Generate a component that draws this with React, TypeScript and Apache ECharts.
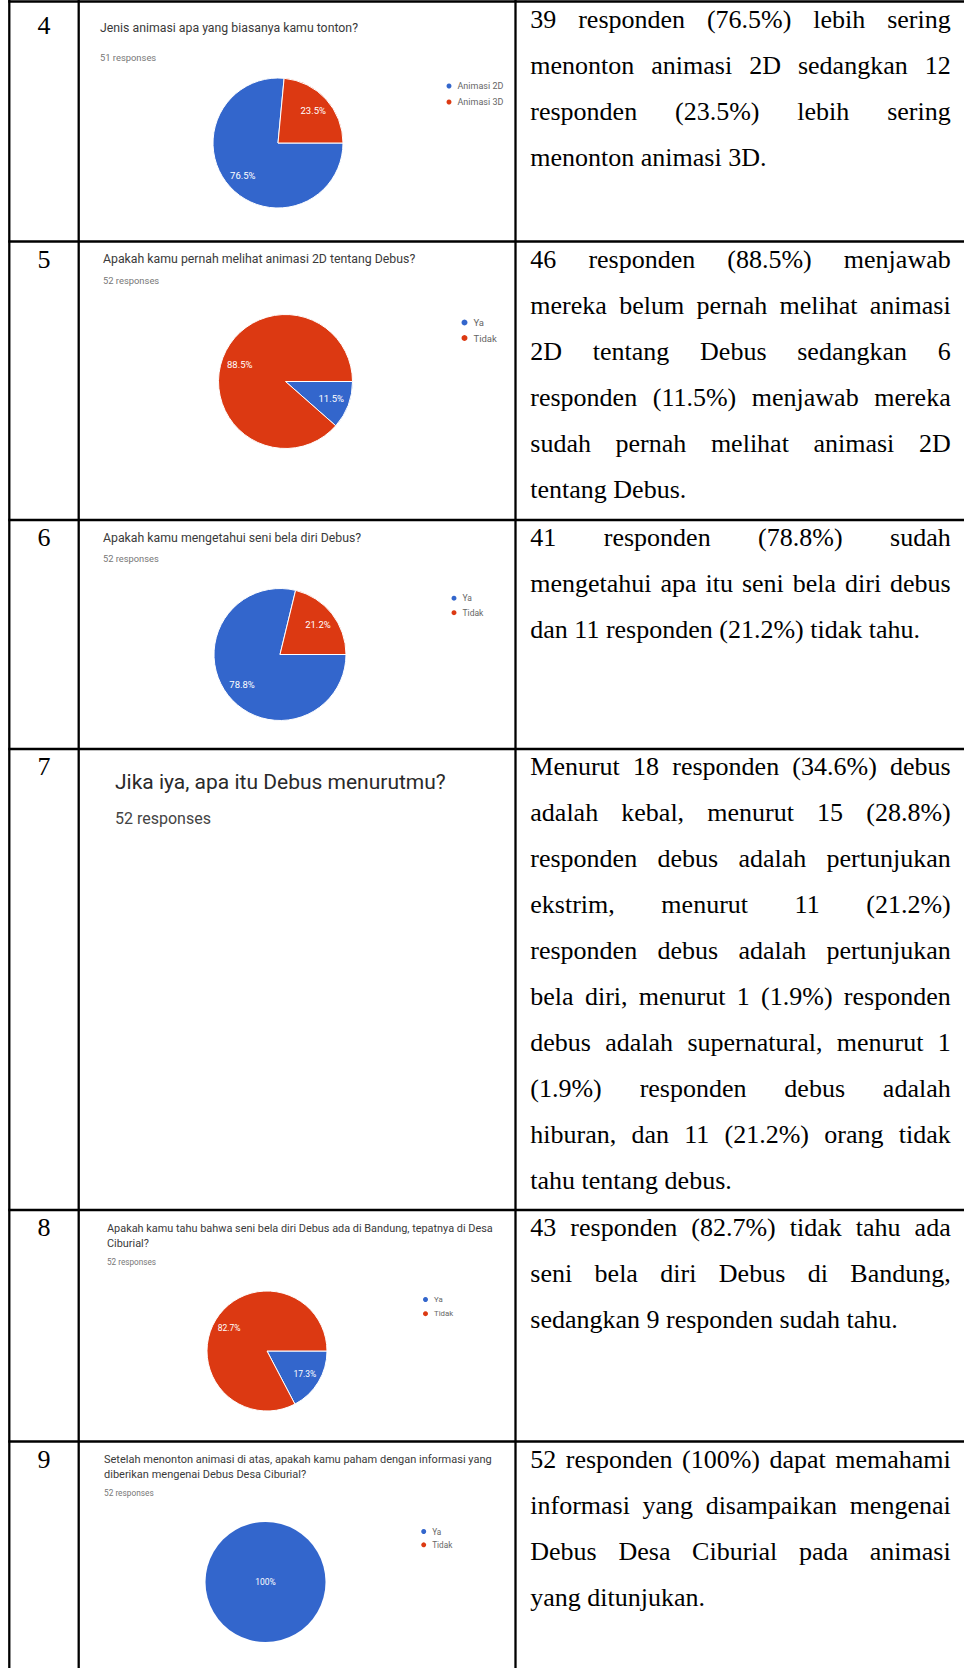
import React, { useEffect, useRef } from 'react';
import * as echarts from 'echarts';

const W = 964;
const H = 1668;

// ---------- data ----------
const rowNumbers = ['4', '5', '6', '7', '8', '9'];

const q4Names = ['Animasi 2D', 'Animasi 3D'];
const q4Values = [76.5, 23.5];
const ynNames = ['Ya', 'Tidak'];
const q5Values = [11.5, 88.5];
const q6Values = [78.8, 21.2];
const q8Values = [17.3, 82.7];
const q9Values = [100, 0];

const q4Title = ['Jenis animasi apa yang biasanya kamu tonton?'];
const q5Title = ['Apakah kamu pernah melihat animasi 2D tentang Debus?'];
const q6Title = ['Apakah kamu mengetahui seni bela diri Debus?'];
const q7Title = ['Jika iya, apa itu Debus menurutmu?'];
const q8Title = ['Apakah kamu tahu bahwa seni bela diri Debus ada di Bandung, tepatnya di Desa', 'Ciburial?'];
const q9Title = ['Setelah menonton animasi di atas, apakah kamu paham dengan informasi yang', 'diberikan mengenai Debus Desa Ciburial?'];
const responses = ['51 responses', '52 responses', '52 responses', '52 responses', '52 responses', '52 responses'];

const text4 = [
  '39 responden (76.5%) lebih sering',
  'menonton animasi 2D sedangkan 12',
  'responden (23.5%) lebih sering',
  'menonton animasi 3D.',
];
const text5 = [
  '46 responden (88.5%) menjawab',
  'mereka belum pernah melihat animasi',
  '2D tentang Debus sedangkan 6',
  'responden (11.5%) menjawab mereka',
  'sudah pernah melihat animasi 2D',
  'tentang Debus.',
];
const text6 = [
  '41 responden (78.8%) sudah',
  'mengetahui apa itu seni bela diri debus',
  'dan 11 responden (21.2%) tidak tahu.',
];
const text7 = [
  'Menurut 18 responden (34.6%) debus',
  'adalah kebal, menurut 15 (28.8%)',
  'responden debus adalah pertunjukan',
  'ekstrim, menurut 11 (21.2%)',
  'responden debus adalah pertunjukan',
  'bela diri, menurut 1 (1.9%) responden',
  'debus adalah supernatural, menurut 1',
  '(1.9%) responden debus adalah',
  'hiburan, dan 11 (21.2%) orang tidak',
  'tahu tentang debus.',
];
const text8 = [
  '43 responden (82.7%) tidak tahu ada',
  'seni bela diri Debus di Bandung,',
  'sedangkan 9 responden sudah tahu.',
];
const text9 = [
  '52 responden (100%) dapat memahami',
  'informasi yang disampaikan mengenai',
  'Debus Desa Ciburial pada animasi',
  'yang ditunjukan.',
];

// ---------- layout ----------
const rowTops = [1.5, 241.5, 520, 749, 1210, 1441.5];
const vLines = [9.3, 78.7, 515.5];
const SERIF = '"Liberation Serif", "Times New Roman", serif';
const SANS = 'Roboto, "Noto Sans", sans-serif';
const BODY_SIZE = 26;
const BODY_LEFT = 530.3;
const BODY_RIGHT = 950.7;
const LINE_STEP = 46;

const BLUE = '#3366cc';
const RED = '#dc3912';

let measureCtx: CanvasRenderingContext2D | null = null;
function measure(text: string, font: string): number {
  if (!measureCtx) {
    const c = document.createElement('canvas');
    measureCtx = c.getContext('2d');
  }
  measureCtx!.font = font;
  return measureCtx!.measureText(text).width;
}

function paragraph(lines: string[], rowTop: number): any[] {
  const els: any[] = [];
  const font = `${BODY_SIZE}px ${SERIF}`;
  lines.forEach((line, li) => {
    const y = rowTop + 17.5 + li * LINE_STEP;
    const last = li === lines.length - 1;
    const words = line.split(' ');
    if (last || words.length < 2) {
      els.push({
        type: 'text', x: BODY_LEFT, y, silent: true,
        style: { text: line, fontSize: BODY_SIZE, fontFamily: SERIF, fill: '#000', align: 'left', verticalAlign: 'middle' },
      });
      return;
    }
    const widths = words.map((w) => measure(w, font));
    const total = widths.reduce((a, b) => a + b, 0);
    const gap = (BODY_RIGHT - BODY_LEFT - total) / (words.length - 1);
    let x = BODY_LEFT;
    words.forEach((w, i) => {
      els.push({
        type: 'text', x, y, silent: true,
        style: { text: w, fontSize: BODY_SIZE, fontFamily: SERIF, fill: '#000', align: 'left', verticalAlign: 'middle' },
      });
      x += widths[i] + gap;
    });
  });
  return els;
}

function titleBlock(lines: string[], resp: string, x: number, y: number, size: number, step: number, respY: number, respSize: number, color: string, respColor: string): any[] {
  const els: any[] = lines.map((t, i) => ({
    type: 'text', x, y: y + i * step, silent: true,
    style: { text: t, fontSize: size, fontFamily: SANS, fill: color, align: 'left', verticalAlign: 'middle' },
  }));
  els.push({
    type: 'text', x, y: respY, silent: true,
    style: { text: resp, fontSize: respSize, fontFamily: SANS, fill: respColor, align: 'left', verticalAlign: 'middle' },
  });
  return els;
}

function pieSeries(names: string[], values: number[], cx: number, cy: number, r: number, labelSize: number, border: number) {
  const k = 0.34;
  return {
    type: 'pie',
    center: [cx, cy],
    radius: r,
    startAngle: 0,
    clockwise: true,
    silent: true,
    avoidLabelOverlap: false,
    emphasis: { disabled: true },
    itemStyle: { borderColor: '#fff', borderWidth: border },
    label: {
      show: true,
      position: 'inside',
      color: '#fff',
      fontSize: labelSize,
      fontFamily: SANS,
      formatter: (p: any) => `${p.value}%`,
    },
    labelLine: { show: false },
    labelLayout: (p: any) => {
      const v = values[p.dataIndex];
      if (v >= 100 || v <= 0) return {};
      const rect = p.labelRect;
      const lx = rect.x + rect.width / 2;
      const ly = rect.y + rect.height / 2;
      return { dx: (lx - cx) * k, dy: (ly - cy) * k };
    },
    data: names.map((n, i) => {
      const item: any = { name: n, value: values[i] };
      if (values[i] <= 0) item.label = { show: false };
      if (values[i] >= 100) item.label = { position: 'center' };
      return item;
    }),
  };
}

function legend(names: string[], left: number, top: number, fontSize: number, gap: number, size: number) {
  return {
    orient: 'vertical',
    left,
    top,
    data: names,
    icon: 'circle',
    itemWidth: size,
    itemHeight: size,
    itemGap: gap,
    selectedMode: false,
    textStyle: { fontSize, color: '#666', fontFamily: SANS },
  };
}

export default function App() {
  const ref = useRef<HTMLDivElement>(null);

  useEffect(() => {
    document.body.style.margin = '0';
    if (!ref.current) return;
    const chart = echarts.init(ref.current, undefined, { renderer: 'svg', width: W, height: H });

    const graphics: any[] = [];
    // table lines
    rowTops.forEach((y) => {
      graphics.push({ type: 'line', silent: true, shape: { x1: vLines[0] - 1, y1: y, x2: W, y2: y }, style: { stroke: '#000', lineWidth: 2.3 } });
    });
    vLines.forEach((x) => {
      graphics.push({ type: 'line', silent: true, shape: { x1: x, y1: 0, x2: x, y2: H }, style: { stroke: '#000', lineWidth: 2.3 } });
    });
    // row numbers
    rowNumbers.forEach((n, i) => {
      graphics.push({
        type: 'text', x: 44, y: rowTops[i] + (i === 0 ? 24 : 17.8), silent: true,
        style: { text: n, fontSize: BODY_SIZE, fontFamily: SERIF, fill: '#000', align: 'center', verticalAlign: 'middle' },
      });
    });
    // paragraphs
    [text4, text5, text6, text7, text8, text9].forEach((t, i) => {
      graphics.push(...paragraph(t, rowTops[i]));
    });
    // form titles
    graphics.push(...titleBlock(q4Title, responses[0], 100, 28.2, 12.3, 15, 57, 9.4, '#3a3a3a', '#777'));
    graphics.push(...titleBlock(q5Title, responses[1], 103, 259, 12.3, 15, 280, 9.4, '#3a3a3a', '#777'));
    graphics.push(...titleBlock(q6Title, responses[2], 103, 538, 12.3, 15, 558, 9.3, '#3a3a3a', '#777'));
    graphics.push(...titleBlock(q7Title, responses[3], 115, 782, 21, 20, 818, 16, '#2a2a2a', '#444'));
    graphics.push(...titleBlock(q8Title, responses[4], 107, 1228, 10.9, 15.5, 1262, 8.2, '#3a3a3a', '#777'));
    graphics.push(...titleBlock(q9Title, responses[5], 104, 1459, 11, 15.5, 1493, 8.3, '#3a3a3a', '#777'));

    chart.setOption({
      animation: false,
      color: [BLUE, RED],
      legend: [
        legend(q4Names, 439.5, 76.5, 9, 7, 7),
        legend(ynNames, 454.5, 312.5, 9.5, 5.5, 8),
        legend(ynNames, 444.5, 588.7, 8.5, 5.5, 7),
        legend(ynNames, 416, 1290, 7.8, 5.2, 7),
        legend(ynNames, 414.2, 1522, 8.2, 4.3, 7),
      ],
      series: [
        pieSeries(q4Names, q4Values, 278, 143, 65, 9.5, 1),
        pieSeries(ynNames, q5Values, 285.5, 381.5, 67, 9.5, 1),
        pieSeries(ynNames, q6Values, 280, 654.5, 66, 9.5, 1),
        pieSeries(ynNames, q8Values, 267, 1351, 60, 8.5, 1),
        pieSeries(ynNames, q9Values, 265.5, 1582, 60, 8.5, 0),
      ],
      graphic: { elements: graphics },
    });

    return () => chart.dispose();
  }, []);

  return <div ref={ref} style={{ width: W, height: H, background: '#fff' }} />;
}
